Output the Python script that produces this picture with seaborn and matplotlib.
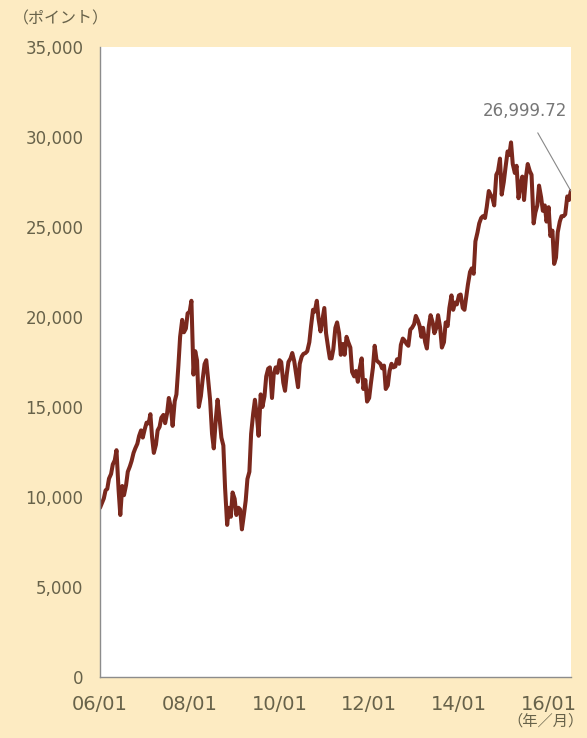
import numpy as np
import pandas as pd
import matplotlib
matplotlib.use("Agg")
import matplotlib.pyplot as plt
import seaborn as sns

# Index values (twice a month, 1st and 15th)
vals_2006 = [9400, 9640, 9920, 10370, 10450, 11020, 11280, 11810, 12040, 12600, 10400, 9000,
             10610, 10100, 10660, 11400, 11700, 12000, 12450, 12700, 12960, 13390, 13700, 13300]
vals_2007 = [13790, 14130, 14090, 14600, 13300, 12450, 12900, 13700, 13900, 14400, 14560, 14100,
             14650, 15500, 14950, 13950, 15320, 15700, 17300, 18900, 19840, 19150, 19360, 20200]
vals_2008 = [20300, 20900, 16800, 18100, 17580, 15000, 15600, 16500, 17380, 17600, 16400, 15400,
             13500, 12700, 14350, 15400, 14300, 13300, 12860, 10500, 8450, 9400, 8900, 10250]
vals_2009 = [9900, 9000, 9400, 9300, 8200, 8900, 9800, 11000, 11400, 13500, 14650, 15400,
             14500, 13400, 15700, 15000, 15600, 16700, 17130, 17200, 15500, 16800, 17200, 16900]
vals_2010 = [17600, 17500, 16350, 15900, 16800, 17500, 17700, 18000, 17550, 16900, 16100, 17400,
             17800, 17950, 18000, 18100, 18600, 19500, 20400, 20300, 20900, 19900, 19200, 19800]
vals_2011 = [20500, 19100, 18300, 17700, 17700, 18200, 19400, 19700, 19100, 17900, 18500, 17900,
             18900, 18600, 18300, 16950, 16700, 17000, 16400, 17100, 17700, 16000, 16500, 15300]
vals_2012 = [15500, 16300, 17200, 18400, 17600, 17500, 17400, 17150, 17300, 16000, 16200, 17000,
             17400, 17200, 17250, 17650, 17400, 18450, 18800, 18700, 18500, 18400, 19300, 19400]
vals_2013 = [19600, 20060, 19800, 19500, 18900, 19400, 18600, 18250, 19500, 20100, 19700, 19100,
             19400, 20100, 19400, 18300, 18600, 19700, 19500, 20500, 21200, 20400, 20800, 20700]
vals_2014 = [21200, 21250, 20500, 20400, 21100, 21800, 22500, 22700, 22400, 24200, 24700, 25200,
             25500, 25600, 25500, 26100, 27000, 26800, 26600, 26200, 27900, 28100, 28800, 26800]
vals_2015 = [27500, 28300, 29200, 29000, 29700, 28500, 28000, 28400, 26600, 27300, 27800, 26500,
             27800, 28500, 28100, 27900, 25200, 25800, 26200, 27300, 26650, 25900, 26200, 25300]
vals_2016 = [26100, 24500, 24800, 22950, 23300, 24700, 25300, 25600, 25600, 25700, 26700, 26500]
last_date = "2016-06-30"
last_value = 26999.72

x_ticks = ["2006-01-01", "2008-01-01", "2010-01-01", "2012-01-01", "2014-01-01", "2016-01-01"]
x_labels = ["06/01", "08/01", "10/01", "12/01", "14/01", "16/01"]
y_ticks = [0, 5000, 10000, 15000, 20000, 25000, 30000, 35000]

values = (vals_2006 + vals_2007 + vals_2008 + vals_2009 + vals_2010 + vals_2011 +
          vals_2012 + vals_2013 + vals_2014 + vals_2015 + vals_2016 + [last_value])
dates = list(pd.date_range("2006-01-01", "2016-06-15", freq="SMS")) + [pd.Timestamp(last_date)]
df = pd.DataFrame({"date": dates, "value": values})

bg = "#fdebc2"
txt = "#67624a"

sns.set_style("white")
plt.rcParams["font.family"] = ["DejaVu Sans"]

fig = plt.figure(figsize=(5.87, 7.38), dpi=100, facecolor=bg)
ax = fig.add_axes([0.1704, 0.0827, 0.8023, 0.8536])
ax.set_facecolor("white")

sns.lineplot(data=df, x="date", y="value", color="#7a281d", lw=2.9, ax=ax)

ax.set_xlim(pd.Timestamp("2006-01-01"), pd.Timestamp("2016-07-01"))
ax.set_ylim(0, 35000)
ax.set_xticks([pd.Timestamp(t) for t in x_ticks])
ax.set_xticklabels(x_labels, fontsize=14, color=txt)
ax.set_yticks(y_ticks)
ax.set_yticklabels([f"{v:,}" for v in y_ticks], fontsize=12, color=txt)
ax.tick_params(axis="x", direction="in", length=5, width=0.8, color="#999999", pad=13)
ax.tick_params(axis="y", direction="in", length=4, width=0.8, color="#bbbbbb", pad=12)
ax.set_xlabel("")
ax.set_ylabel("")

for s in ["top", "right"]:
    ax.spines[s].set_visible(False)
for s in ["left", "bottom"]:
    ax.spines[s].set_color("#8c8c8c")
    ax.spines[s].set_linewidth(1.0)

# label for the last value
ax.annotate(f"{last_value:,.2f}", xy=(pd.Timestamp(last_date), last_value),
            xytext=(pd.Timestamp("2015-06-25"), 31450), fontsize=12, color="#777777",
            ha="center", va="center",
            arrowprops=dict(arrowstyle="-", color="#888888", lw=0.8,
                            shrinkA=8, shrinkB=0))

fig.text(0.022, 0.974, "（ポイント）", fontsize=11.5, color=txt,
         family=["Noto Sans CJK JP", "DejaVu Sans"], ha="left", va="center")
fig.text(0.995, 0.023, "（年／月）", fontsize=11, color=txt,
         family=["Noto Sans CJK JP", "DejaVu Sans"], ha="right", va="center")

fig.savefig("out.png", dpi=100, facecolor=bg)
